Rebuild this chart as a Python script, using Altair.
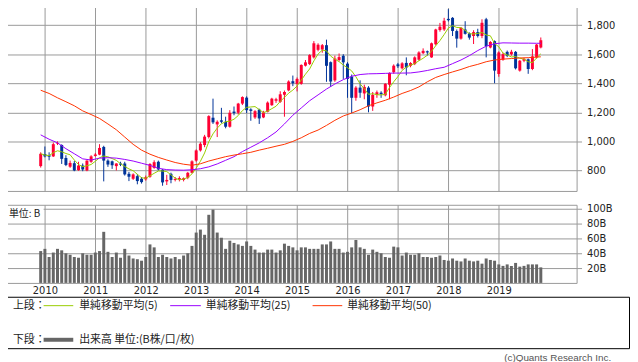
import altair as alt
import pandas as pd

# ---------------- data (monthly, Dec 2009 .. Nov 2019) ----------------
month_index = list(range(120))
open_ = [830, 913, 905, 897, 985, 975, 886, 826, 850, 802, 834, 800, 860, 900, 909, 962, 868, 863, 830, 848,
         848, 777, 743, 761, 743, 739, 757, 818, 860, 805, 725, 777, 735, 738, 735, 750, 784, 868, 938, 975,
         1030, 1163, 1117, 1145, 1135, 1101, 1205, 1197, 1260, 1301, 1220, 1165, 1219, 1165, 1204, 1249, 1280, 1272, 1321, 1351,
         1414, 1396, 1396, 1521, 1532, 1578, 1630, 1632, 1662, 1545, 1420, 1560, 1589, 1535, 1445, 1300, 1370, 1330, 1370, 1240,
         1320, 1335, 1317, 1390, 1476, 1530, 1503, 1540, 1520, 1532, 1562, 1607, 1620, 1578, 1668, 1766, 1770, 1843, 1850, 1759,
         1707, 1770, 1743, 1725, 1752, 1725, 1840, 1646, 1690, 1464, 1562, 1616, 1600, 1616, 1487, 1555, 1565, 1498, 1578, 1646]
high = [925, 965, 925, 992, 1000, 980, 905, 868, 865, 860, 848, 870, 905, 920, 981, 970, 877, 868, 850, 860,
        860, 790, 780, 775, 755, 765, 850, 870, 868, 810, 770, 785, 755, 760, 752, 790, 870, 945, 995, 1045,
        1180, 1294, 1145, 1231, 1170, 1215, 1240, 1265, 1310, 1310, 1228, 1215, 1225, 1210, 1275, 1300, 1300, 1345, 1350, 1420,
        1453, 1440, 1530, 1560, 1600, 1690, 1675, 1670, 1700, 1550, 1590, 1605, 1600, 1545, 1460, 1380, 1420, 1390, 1380, 1340,
        1350, 1345, 1400, 1475, 1530, 1540, 1545, 1578, 1545, 1585, 1620, 1640, 1625, 1680, 1775, 1815, 1850, 1910, 1855, 1770,
        1785, 1827, 1750, 1765, 1775, 1840, 1850, 1690, 1695, 1620, 1610, 1625, 1630, 1622, 1560, 1575, 1570, 1635, 1670, 1715]
low = [820, 890, 870, 893, 975, 845, 830, 818, 795, 798, 795, 795, 853, 895, 905, 725, 825, 811, 800, 830,
       765, 727, 735, 705, 710, 730, 750, 812, 800, 695, 700, 712, 725, 725, 725, 740, 780, 860, 930, 960,
       1020, 1120, 1030, 1125, 1090, 1095, 1180, 1185, 1250, 1195, 1142, 1155, 1120, 1160, 1200, 1245, 1265, 1265, 1170, 1345,
       1380, 1344, 1390, 1515, 1525, 1570, 1620, 1610, 1410, 1375, 1410, 1550, 1430, 1300, 1195, 1280, 1300, 1290, 1200, 1210,
       1300, 1300, 1310, 1290, 1465, 1505, 1495, 1455, 1510, 1525, 1555, 1600, 1590, 1575, 1660, 1755, 1760, 1825, 1725, 1645,
       1700, 1735, 1700, 1670, 1715, 1710, 1578, 1640, 1400, 1445, 1555, 1580, 1590, 1495, 1480, 1545, 1465, 1490, 1570, 1640]
close = [915, 897, 895, 981, 990, 880, 838, 852, 800, 834, 807, 868, 897, 910, 955, 868, 841, 836, 848, 840,
         773, 757, 773, 727, 720, 754, 845, 857, 807, 718, 735, 735, 742, 748, 747, 784, 863, 938, 984, 1033,
         1174, 1131, 1135, 1135, 1101, 1197, 1195, 1260, 1305, 1215, 1210, 1208, 1158, 1200, 1267, 1294, 1290, 1324, 1340, 1412,
         1400, 1430, 1526, 1544, 1594, 1675, 1665, 1662, 1520, 1412, 1570, 1580, 1544, 1430, 1300, 1370, 1335, 1375, 1240, 1320,
         1338, 1325, 1396, 1471, 1521, 1517, 1537, 1508, 1539, 1578, 1612, 1623, 1612, 1675, 1770, 1789, 1830, 1834, 1760, 1707,
         1782, 1740, 1714, 1752, 1725, 1816, 1655, 1684, 1487, 1612, 1600, 1589, 1616, 1503, 1555, 1568, 1498, 1585, 1666, 1696]
volume = [43, 46, 35, 41, 46, 44, 40, 38, 35, 34, 40, 38, 38, 41, 43, 69, 42, 35, 41, 34,
          46, 37, 33, 32, 30, 35, 52, 48, 35, 38, 35, 33, 35, 32, 37, 40, 50, 68, 72, 65,
          92, 99, 68, 61, 46, 57, 54, 52, 50, 56, 50, 45, 41, 41, 45, 45, 41, 44, 53, 50,
          48, 44, 48, 48, 46, 46, 46, 52, 52, 56, 46, 46, 41, 42, 48, 58, 48, 46, 38, 45,
          42, 40, 35, 34, 49, 48, 37, 41, 38, 38, 40, 35, 35, 34, 35, 37, 31, 30, 33, 30,
          29, 33, 30, 29, 30, 26, 33, 31, 30, 25, 23, 25, 23, 27, 22, 23, 25, 25, 25, 21]

ma_index = list(range(0, 120, 2)) + [119]
ma25 = [1045, 1015, 990, 950, 915, 880, 872, 885, 888, 885, 876, 865, 850, 835, 815, 806, 803, 802, 805, 812,
        825, 845, 870, 895, 930, 960, 990, 1025, 1065, 1120, 1180, 1230, 1280, 1320, 1360, 1395, 1425, 1448, 1460, 1465,
        1466, 1468, 1470, 1470, 1471, 1478, 1488, 1500, 1510, 1535, 1560, 1590, 1625, 1655, 1672, 1678, 1677, 1676, 1676, 1675, 1675]
ma50 = [1352, 1330, 1300, 1273, 1245, 1210, 1185, 1158, 1120, 1080, 1030, 980, 940, 912, 890, 872, 855, 843, 836, 846,
        865, 880, 895, 906, 915, 925, 940, 953, 967, 980, 1000, 1025, 1055, 1078, 1110, 1145, 1175, 1195, 1218, 1245,
        1265, 1283, 1305, 1330, 1350, 1375, 1410, 1440, 1460, 1478, 1495, 1515, 1530, 1548, 1560, 1566, 1570, 1574, 1576, 1580, 1582]

year_ticks = list(range(2010, 2020))
price_ticks = [800, 1000, 1200, 1400, 1600, 1800]
volume_ticks = [20, 40, 60, 80, 100]
unit_label = ["単位: B"]
upper_label = ["上段："]
lower_label = ["下段："]
ma_labels = ["単純移動平均(5)", "単純移動平均(25)", "単純移動平均(50)"]
volume_label = ["出来高 単位:(B株/口/枚)"]
credit = ["(c)Quants Research Inc."]

# ---------------- styles ----------------
RED = "#ff0033"
BLUE = "#003399"
GREEN = "#99cc00"
PURPLE = "#9900ff"
ORANGE = "#ff3300"
VOLC = "#666666"
GRID = "#999999"
FONT = "DejaVu Sans"
JFONT = "Noto Sans CJK JP"


def month_pos(i):
    return 2009 + (11 + i) / 12


df = pd.DataFrame({
    "t": [month_pos(i) for i in month_index],
    "open": open_, "high": high, "low": low, "close": close, "vol": volume,
})
df["dir"] = ["up" if c >= o else "down" for o, c in zip(open_, close)]
ma_df = pd.DataFrame({"t": [month_pos(i) for i in ma_index], "ma25": ma25, "ma50": ma50})

xscale = alt.Scale(domain=[2009.19, 2020.543], nice=False, zero=False, padding=0)
x_grid_axis = alt.Axis(values=year_ticks, grid=True, gridColor=GRID, labels=False, ticks=False,
                       domain=False, title=None)
price_scale = alt.Scale(domain=[659.2, 1951.7], nice=False, zero=False, padding=0)
price_axis = alt.Axis(orient="right", values=price_ticks, format=",.0f", grid=True, gridColor=GRID,
                      tickColor=GRID, tickSize=5, labelPadding=5, domain=False, title=None,
                      labelFont=FONT, labelFontSize=10, labelColor="#222")
dir_color = alt.Color("dir:N", scale=alt.Scale(domain=["up", "down"], range=[RED, BLUE]), legend=None)

X = alt.X("t:Q", scale=xscale, axis=x_grid_axis)

wick = alt.Chart(df).mark_rule(strokeWidth=1).encode(
    x=X, y=alt.Y("low:Q", scale=price_scale, axis=price_axis), y2="high:Q", color=dir_color)
body = alt.Chart(df).mark_bar(size=3).encode(
    x=X, y=alt.Y("open:Q", scale=price_scale, axis=price_axis), y2="close:Q", color=dir_color)
ma5_line = alt.Chart(df).transform_window(
    ma5="mean(close)", frame=[-4, 0], sort=[alt.SortField("t")]
).mark_line(color=GREEN, strokeWidth=1).encode(
    x=X, y=alt.Y("ma5:Q", scale=price_scale, axis=price_axis))
ma25_line = alt.Chart(ma_df).mark_line(color=PURPLE, strokeWidth=1).encode(
    x=X, y=alt.Y("ma25:Q", scale=price_scale, axis=price_axis))
ma50_line = alt.Chart(ma_df).mark_line(color=ORANGE, strokeWidth=1).encode(
    x=X, y=alt.Y("ma50:Q", scale=price_scale, axis=price_axis))

price = alt.layer(wick, body, ma5_line, ma25_line, ma50_line).properties(
    width=579, height=190, view=alt.ViewBackground(stroke=GRID))

# ---------------- volume ----------------
vol_x_axis = alt.Axis(values=year_ticks, format="d", grid=True, gridColor=GRID, ticks=False, domain=False,
                      labelPadding=3, title=None, labelFont=FONT, labelFontSize=10, labelColor="#222")
vol_axis = alt.Axis(orient="right", values=volume_ticks, labelExpr="datum.value + 'B'", grid=True,
                    gridColor=GRID, tickColor=GRID, tickSize=5, labelPadding=5, domain=False, title=None,
                    labelFont=FONT, labelFontSize=10, labelColor="#222")
vol_bars = alt.Chart(df).mark_bar(size=3, color=VOLC).encode(
    x=alt.X("t:Q", scale=xscale, axis=vol_x_axis),
    y=alt.Y("vol:Q", scale=alt.Scale(domain=[0, 105.5], nice=False, padding=0), axis=vol_axis))
unit_df = pd.DataFrame({"label": unit_label})
unit_bg = alt.Chart(unit_df).mark_rect(color="white").encode(
    x=alt.value(1), x2=alt.value(40), y=alt.value(1.5), y2=alt.value(16))
unit_txt = alt.Chart(unit_df).mark_text(align="left", baseline="middle", font=JFONT, fontSize=10,
                                        color="#222").encode(
    x=alt.value(5), y=alt.value(9), text="label:N")
volume_chart = alt.layer(vol_bars, unit_bg, unit_txt).properties(
    width=579, height=79, view=alt.ViewBackground(stroke=GRID))

# ---------------- legend box ----------------
one = pd.DataFrame({"k": [0]})


def txt(label, x, y, align="left", color="#222", font=JFONT, size=11):
    return alt.Chart(pd.DataFrame({"label": [label]})).mark_text(
        align=align, baseline="middle", font=font, fontSize=size, color=color
    ).encode(x=alt.value(x), y=alt.value(y), text="label:N")


def seg(x1, x2, y, color, w=1):
    return alt.Chart(one).mark_rule(color=color, strokeWidth=w).encode(
        x=alt.value(x1), x2=alt.value(x2), y=alt.value(y))


legend = alt.layer(
    txt(upper_label[0], 9, 9),
    seg(40, 70, 9, GREEN), txt(ma_labels[0], 76, 9),
    seg(168, 199, 9, PURPLE), txt(ma_labels[1], 204, 9),
    seg(312, 342, 9, ORANGE), txt(ma_labels[2], 347, 9),
    txt(lower_label[0], 9, 43.5),
    seg(40, 70, 43.5, VOLC, 4), txt(volume_label[0], 76, 43.5),
    txt(credit[0], 614, 61.5, align="right", color="#555", font="Liberation Sans", size=10),
).properties(width=632, height=52, view=alt.ViewBackground(stroke="black"))

chart = alt.vconcat(
    alt.vconcat(price, volume_chart, spacing=11),
    legend, spacing=-3
).properties(
    padding={"left": -5, "top": -8, "right": 0, "bottom": 0},
    background="white",
).configure_view(strokeWidth=1)

chart.save("out.html", embed_options={"renderer": "svg", "actions": False})
